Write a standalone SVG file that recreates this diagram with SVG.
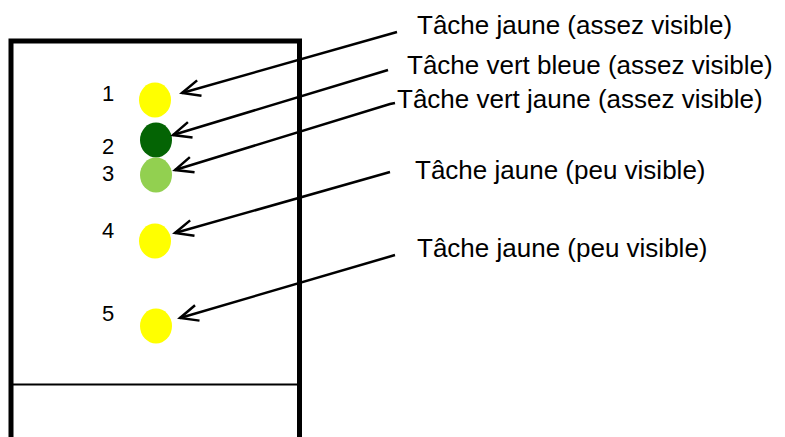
<svg xmlns="http://www.w3.org/2000/svg" width="785" height="437" viewBox="0 0 785 437">
<style>
.lbl{font-family:"Liberation Sans",Arial,sans-serif;font-size:26px;fill:#000}
.num{font-family:"Liberation Sans",Arial,sans-serif;font-size:22px;fill:#000}
.conn{fill:none;stroke:#000;stroke-width:2.5;marker-end:url(#arr)}
</style>
<defs>
<marker id="arr" markerUnits="userSpaceOnUse" markerWidth="30" markerHeight="30" viewBox="-25 -15 30 30" refX="0" refY="0" orient="auto">
<path d="M-18,-8 L0,0 L-18,8" fill="none" stroke="#000" stroke-width="2.5" stroke-linejoin="miter"/>
</marker>
</defs>
<rect width="785" height="437" fill="#fff"/>
<g id="frame">
<path d="M11,437 V41 H299.5 V437" fill="none" stroke="#000" stroke-width="5"/>
<line x1="11" y1="384.5" x2="299" y2="384.5" stroke="#000" stroke-width="2"/>
</g>
<g id="spot1"><ellipse cx="155" cy="100" rx="16" ry="17.5" fill="#ffff00"/><text class="num" x="102" y="101">1</text></g>
<g id="spot2"><ellipse cx="156" cy="140" rx="16" ry="17.5" fill="#046404"/><text class="num" x="102" y="154">2</text></g>
<g id="spot3"><ellipse cx="156" cy="175" rx="16" ry="17.5" fill="#92d050"/><text class="num" x="102" y="181">3</text></g>
<g id="spot4"><ellipse cx="155" cy="241" rx="16" ry="17.5" fill="#ffff00"/><text class="num" x="102" y="238">4</text></g>
<g id="spot5"><ellipse cx="156" cy="326" rx="16" ry="17.5" fill="#ffff00"/><text class="num" x="102" y="321">5</text></g>
<g id="label1"><text class="lbl" x="417" y="34">Tâche jaune (assez visible)</text></g>
<g id="label2"><text class="lbl" x="407" y="74">Tâche vert bleue (assez visible)</text></g>
<g id="label3"><text class="lbl" x="397" y="108">Tâche vert jaune (assez visible)</text></g>
<g id="label4"><text class="lbl" x="415" y="179">Tâche jaune (peu visible)</text></g>
<g id="label5"><text class="lbl" x="417" y="257">Tâche jaune (peu visible)</text></g>
<g id="connectors">
<line class="conn" x1="397" y1="32" x2="182" y2="93"/>
<line class="conn" x1="388" y1="70" x2="173" y2="135"/>
<polyline class="conn" points="395,103 390,104 175,170"/>
<line class="conn" x1="390" y1="172" x2="175" y2="233"/>
<line class="conn" x1="395" y1="255" x2="180" y2="318"/>
</g>
</svg>
